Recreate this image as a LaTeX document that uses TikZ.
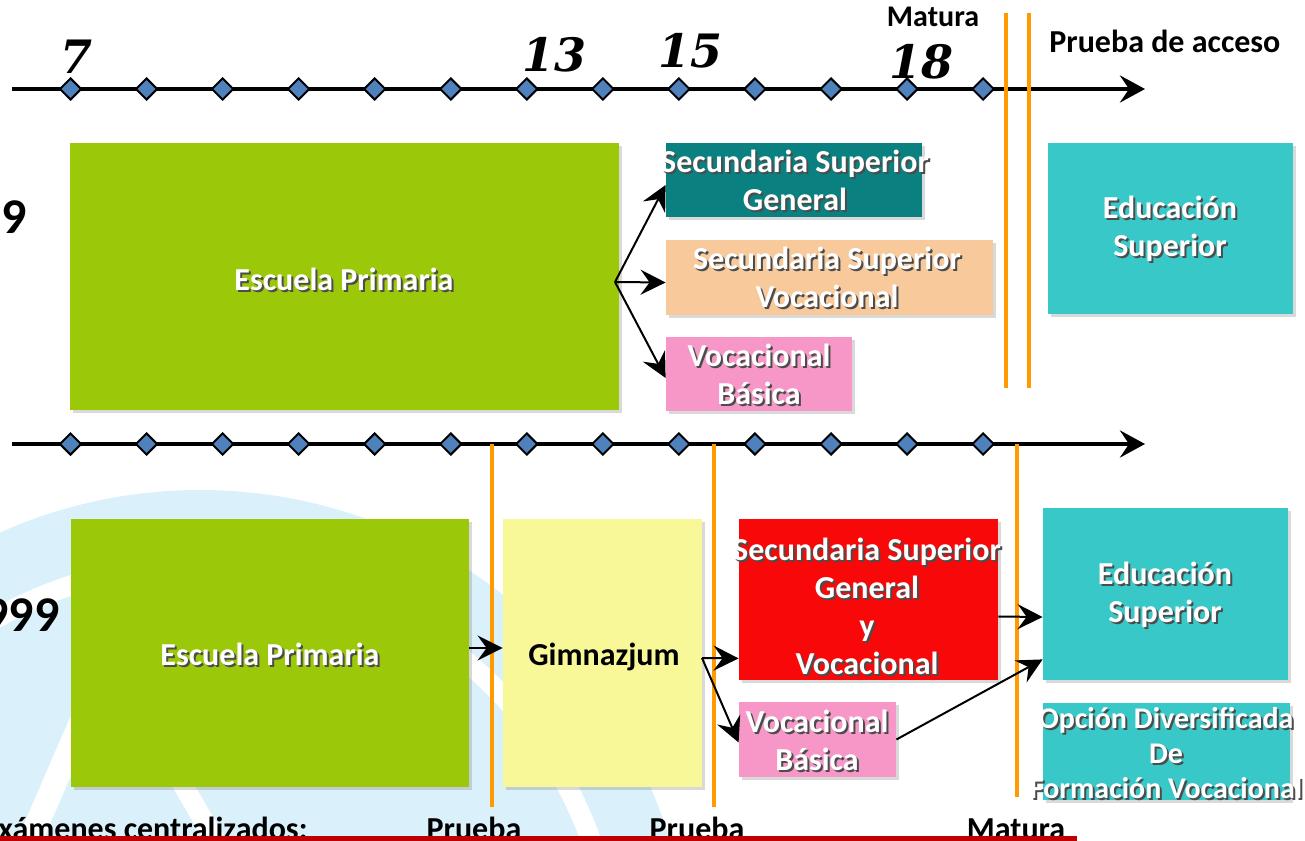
\documentclass[tikz,border=0pt]{standalone}
\usepackage{fontspec}
\setmainfont{Carlito}
\newfontfamily\numfont{DejaVu Serif}
\usetikzlibrary{shapes.geometric,arrows.meta,shadows,calc,fit}
\definecolor{dia}{HTML}{4F81BD}
\definecolor{orng}{HTML}{FF9A00}
\definecolor{green1}{HTML}{9BC808}
\definecolor{teal1}{HTML}{0A8080}
\definecolor{peach}{HTML}{F8C99A}
\definecolor{pink1}{HTML}{F797C8}
\definecolor{cyan1}{HTML}{38C8C8}
\definecolor{yell}{HTML}{F8F898}
\definecolor{red1}{HTML}{F80808}
\definecolor{wm}{RGB}{218,240,250}
\definecolor{darkred}{HTML}{C00000}
\newcommand\sh[1]{\leavevmode\rlap{\hspace{1pt}\raisebox{-1pt}{\textcolor{black!70}{#1}}}#1}
\tikzset{
 axis/.style={line width=2pt, -{Stealth[length=12.5pt,width=13.5pt,inset=4.5pt]}},
 dmd/.style={diamond, draw=black, fill=dia, line width=1pt, inner sep=0pt, minimum width=11pt, minimum height=11pt},
 vline/.style={draw=orng, line width=1.6pt},
 box/.style={inner sep=0pt, drop shadow={shadow xshift=1.5pt, shadow yshift=-1.5pt, opacity=0.3}},
 wtxt/.style={text=white, font=\bfseries\fontsize{16}{19}\selectfont, align=center, inner sep=0pt},
 stxt/.style={text=white, font=\bfseries\fontsize{15}{17.5}\selectfont, align=center, inner sep=0pt},
 conn/.style={line width=1pt, -{Stealth[length=12.5pt,width=12.5pt,inset=4.5pt]}},
 num/.style={font=\numfont\bfseries\itshape\fontsize{23}{23}\selectfont, inner sep=0pt, anchor=base},
 lbl/.style={font=\bfseries\fontsize{16}{16}\selectfont, inner sep=0pt, anchor=base},
 big/.style={font=\bfseries\fontsize{25}{25}\selectfont, inner sep=0pt, anchor=base east},
}
\begin{document}
\begin{tikzpicture}[x=0.5pt,y=-0.5pt]
\useasboundingbox (0,0) rectangle (1305,840);
% watermark
\begin{scope}
 \clip (0,447) rectangle (1305,840);
 \fill[wm] (200,980) circle[radius=490];
 \draw[white, line width=10pt] (200,980) circle[radius=415];
 \draw[white, line width=12pt] (95,690) -- (30,840);
 \draw[white, line width=10pt] (180,780) -- (215,840);
\end{scope}
% timelines
\coordinate (t1s) at (12,89); \coordinate (t1e) at (1145,89);
\coordinate (t2s) at (12,444); \coordinate (t2e) at (1145,444);
\draw[axis] (t1s) -- (t1e);
\draw[axis] (t2s) -- (t2e);
\foreach \i in {0,...,12}{
  \node[dmd] (a\i) at ({70.5+76.05*\i},89) {};
  \node[dmd] (b\i) at ({70.5+76.05*\i},444) {};
}
% orange lines
\coordinate (o1a) at (1006,13); \coordinate (o1b) at (1006,388);
\coordinate (o2a) at (1029,13); \coordinate (o2b) at (1029,388);
\coordinate (o3a) at (492,444); \coordinate (o3b) at (492,807);
\coordinate (o4a) at (714,444); \coordinate (o4b) at (714,807);
\coordinate (o5a) at (1017,444); \coordinate (o5b) at (1017,797);
\draw[vline] (o1a) -- (o1b);
\draw[vline] (o2a) -- (o2b);
\draw[vline] (o3a) -- (o3b);
\draw[vline] (o4a) -- (o4b);
\draw[vline] (o5a) -- (o5b);
% labels top
\node[num] (n7) at (77,74) {7};
\node[num] (n13) at (554,72) {13};
\node[num] (n15) at (690,68) {15};
\node[num] (n18) at (921,79) {18};
\node[lbl, font=\bfseries\fontsize{15}{15}\selectfont] (mat1) at (933,27) {Matura};
\node[lbl, anchor=base west] (pda) at (1049,53) {Prueba de acceso};
\node[big] (y1) at (27,233) {9};
\node[big] (y2) at (60,631) {999};
% top boxes
\node[box, fill=green1, fit={(70,143) (619,410)}] (ep1) {};
\node[box, fill=teal1, fit={(666,143) (922,217)}] (sg) {};
\node[box, fill=peach, fit={(666,240) (993,315)}] (sv) {};
\node[box, fill=pink1, fit={(666,337) (852,411)}] (vb1) {};
\node[box, fill=cyan1, fit={(1048,143) (1293,314)}] (es1) {};
\node[wtxt] (ep1t) at (344,280) {\sh{Escuela Primaria}};
\node[wtxt] (sgt) at (795,181) {\sh{Secundaria Superior}\\\sh{General}};
\node[wtxt] (svt) at (827,278) {\sh{Secundaria Superior}\\\sh{Vocacional}};
\node[wtxt] (vb1t) at (759,375) {\sh{Vocacional}\\\sh{Básica}};
\node[wtxt] (es1t) at (1170,230) {\sh{Educación}\\\sh{Superior}};
\coordinate (f1) at (615,282);
\draw[conn] (f1) -- ($(sg.west)+(0,5)$);
\draw[conn] (f1) -- ($(sv.west)+(0,5)$);
\draw[conn] (f1) -- ($(vb1.west)+(0,4)$);
% bottom boxes
\node[box, fill=green1, fit={(71,519) (469,787)}] (ep2) {};
\node[box, fill=yell, fit={(503,519) (702,787)}] (gim) {};
\node[box, fill=red1, fit={(739,519) (998,680)}] (rs) {};
\node[box, fill=pink1, fit={(739,702) (896,777)}] (vb2) {};
\node[box, fill=cyan1, fit={(1043,508) (1288,680)}] (es2) {};
\node[box, fill=cyan1, fit={(1043,703) (1290,800)}] (od) {};
\node[wtxt] (ep2t) at (270,655) {\sh{Escuela Primaria}};
\node[wtxt, text=black] (gimt) at (604,657) {Gimnazjum};
\node[wtxt] (rst) at (867,607) {\sh{Secundaria Superior}\\\sh{General}\\\sh{y}\\\sh{Vocacional}};
\node[wtxt] (vb2t) at (817,741) {\sh{Vocacional}\\\sh{Básica}};
\node[wtxt] (es2t) at (1165,596) {\sh{Educación}\\\sh{Superior}};
\node[stxt] (odt) at (1166,754) {\sh{Opción Diversificada}\\\sh{De}\\\sh{Formación Vocacional}};
\draw[conn] ($(ep2.east)+(0,-5)$) -- ($(gim.west)+(0,-5)$);
\coordinate (f2) at (702,658);
\draw[conn] (f2) -- ($(rs.south west)+(0,-22)$);
\draw[conn] (f2) -- ($(vb2.west)+(0,3)$);
\draw[conn] ($(rs.east)+(0,17)$) -- ($(es2.west)+(0,23)$);
\draw[conn] (vb2.east) -- ($(es2.south west)+(0,-21)$);
% bottom labels
\node[lbl, anchor=base west] (exa) at (-2,839) {xámenes centralizados:};
\node[lbl] (pr1) at (474,839) {Prueba};
\node[lbl] (pr2) at (697,839) {Prueba};
\node[lbl] (mat2) at (1016,839) {Matura};
\fill[darkred] (0,836) rectangle (1077,842);
\end{tikzpicture}
\end{document}
